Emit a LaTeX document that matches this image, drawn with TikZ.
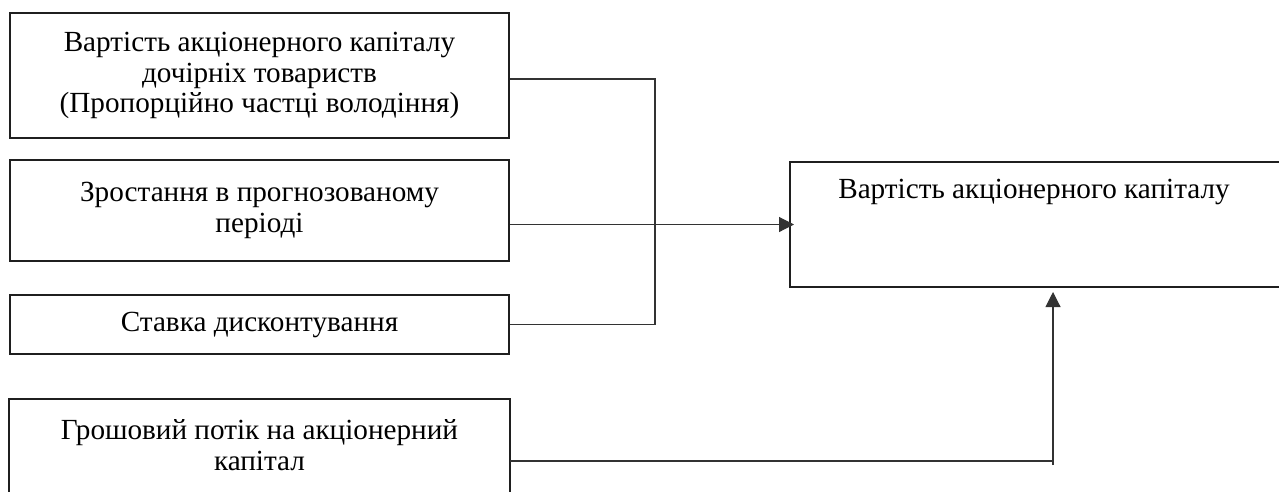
\documentclass[tikz,border=0pt]{standalone}
\usepackage{fontspec}
\setmainfont{Liberation Serif}
\usetikzlibrary{arrows.meta,calc}
\begin{document}
\begin{tikzpicture}[x=1pt,y=-1pt,
  box/.style={draw=black!88, line width=2pt, rectangle, inner sep=0pt, align=center,
    font=\fontsize{29.2}{30.7}\selectfont},
  edge/.style={draw=black!88, line width=2pt},
  conn/.style={draw=black!80, line width=1.1pt},
  arr/.style={conn, -{Triangle[length=15pt,width=15pt]}},
  txt/.style={inner sep=0pt, font=\fontsize{29.2}{30.7}\selectfont}]
\useasboundingbox (0,0) rectangle (1279,491);
\clip (0,0) rectangle (1279,491);
\node[box, minimum width=499, minimum height=125] (b1) at (259.5,75.5)
  {Вартість акціонерного капіталу\\дочірніх товариств\\(Пропорційно частці володіння)};
\node[box, minimum width=499, minimum height=101] (b2) at (259.5,210.5)
  {Зростання в прогнозованому\\періоді};
\node[box, minimum width=499, minimum height=59] (b3) at (259.5,324.5)
  {Ставка дисконтування};
\node[box, draw=none, minimum width=499, minimum height=90, anchor=north] (b4) at (259.5,399)
  {Грошовий потік на акціонерний\\капітал};
\draw[edge] ([yshift=-15pt]b4.south west) -- (b4.north west) -- (b4.north east) -- ([yshift=-15pt]b4.south east);
\node[box, minimum width=510, minimum height=125, anchor=north west] (res) at (789,161) {};
\node[txt, anchor=base] (rt) at (1034,198) {Вартість акціонерного капіталу};
\coordinate (vx) at (655,0);
\draw[conn] ([yshift=-3.5pt]b1.east) -| (vx |- b3.east) -- (b3.east);
\draw[arr] (b2.east |- res.west) -- ([xshift=5pt]res.west);
\coordinate (up) at (1053,0);
\draw[conn] (b4.east |- 0,461) -- (up |- 0,461) -- ++(0,4);
\draw[arr] (up |- 0,465) -- (up |- 0,292);
\end{tikzpicture}
\end{document}
